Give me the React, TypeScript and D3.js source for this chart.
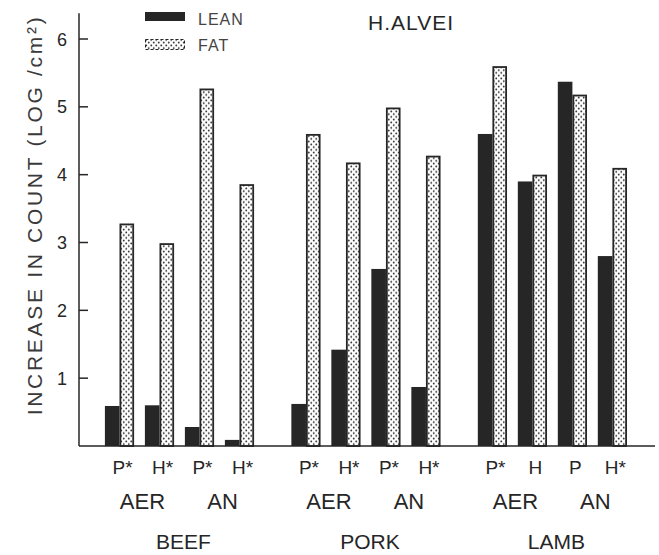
import React from "react";
import * as d3 from "d3";

// Increase in H. alvei count on lean and fat tissue, by meat, atmosphere and treatment
const groups = ["BEEF", "PORK", "LAMB"];
const atmospheres = ["AER", "AN"];
const slots = [0, 1, 2, 3];
const treatmentLabels = [
  "P*", "H*", "P*", "H*",
  "P*", "H*", "P*", "H*",
  "P*", "H", "P", "H*",
];
const leanValues = [
  0.59, 0.6, 0.28, 0.09,
  0.62, 1.42, 2.61, 0.87,
  4.6, 3.9, 5.37, 2.8,
];
const fatValues = [
  3.28, 2.99, 5.27, 3.86,
  4.6, 4.18, 4.99, 4.28,
  5.6, 4.0, 5.18, 4.1,
];
const series = ["LEAN", "FAT"];
const yTicks = [1, 2, 3, 4, 5, 6];

const W = 659;
const H = 555;
const FONT = "'Liberation Sans', Arial, Helvetica, sans-serif";
const INK = "#262626";

export default function App() {
  const y = d3.scaleLinear().domain([0, 6]).range([446, 39]);
  const xGroup = d3
    .scaleBand<string>()
    .domain(groups)
    .range([99.5, 632.4])
    .paddingInner(0.142)
    .paddingOuter(0);
  const xSlot = d3
    .scaleBand<number>()
    .domain(slots)
    .range([0, xGroup.bandwidth()])
    .paddingInner(0.27)
    .paddingOuter(0.135);
  const xSeries = d3
    .scaleBand<string>()
    .domain(series)
    .range([0, xSlot.bandwidth()]);

  const axisX = 79;
  const baseY = y(0);
  const axisTop = y(6.38);

  const pairCenter = (g: number, s: number) =>
    (xGroup(groups[g]) as number) + (xSlot(s) as number) + xSlot.bandwidth() / 2;

  const bars: React.ReactNode[] = [];
  groups.forEach((g, gi) => {
    slots.forEach((s) => {
      const i = gi * 4 + s;
      const x0 = (xGroup(g) as number) + (xSlot(s) as number);
      const lean = leanValues[i];
      const fat = fatValues[i];
      bars.push(
        <rect
          key={`l${i}`}
          x={x0 + (xSeries("LEAN") as number)}
          y={y(lean)}
          width={xSeries.bandwidth()}
          height={baseY - y(lean)}
          fill={INK}
        />
      );
      bars.push(
        <rect
          key={`f${i}`}
          x={x0 + (xSeries("FAT") as number) + 0.9}
          y={y(fat) + 0.9}
          width={xSeries.bandwidth() - 1.8}
          height={baseY - y(fat) - 0.9}
          fill="url(#dots)"
          stroke={INK}
          strokeWidth={1.8}
        />
      );
    });
  });

  return (
    <svg
      width={W}
      height={H}
      style={{ position: "absolute", left: 0, top: 0, background: "#fff" }}
      fontFamily={FONT}
    >
      <defs>
        <pattern id="dots" width={5} height={5.5} patternUnits="userSpaceOnUse">
          <rect width={5} height={5.5} fill="#fff" />
          <circle cx={1.25} cy={1.4} r={0.95} fill="#2a2a2a" />
          <circle cx={3.75} cy={4.15} r={0.95} fill="#2a2a2a" />
        </pattern>
      </defs>

      {/* y axis */}
      <line x1={axisX} x2={axisX} y1={axisTop} y2={baseY} stroke={INK} strokeWidth={1.5} />
      {yTicks.map((t) => (
        <g key={t}>
          <line x1={axisX} x2={axisX + 9} y1={y(t)} y2={y(t)} stroke={INK} strokeWidth={1.5} />
          <text
            x={67}
            y={y(t) + 6.5}
            textAnchor="end"
            fontSize={18}
            fill={INK}
          >
            {t}
          </text>
        </g>
      ))}
      <text
        transform={`translate(42,215) rotate(-90)`}
        textAnchor="middle"
        fontSize={21}
        letterSpacing={2.7}
        fill="#3a3a3a"
      >
        INCREASE IN COUNT (LOG /cm²)
      </text>

      {/* bars */}
      {bars}

      {/* baseline */}
      <line x1={axisX} x2={655} y1={baseY} y2={baseY} stroke={INK} strokeWidth={1.6} />

      {/* treatment labels */}
      {treatmentLabels.map((lab, i) => (
        <text
          key={`t${i}`}
          x={pairCenter(Math.floor(i / 4), i % 4) + 3}
          y={474}
          textAnchor="middle"
          fontSize={19}
          fill={INK}
        >
          {lab}
        </text>
      ))}

      {/* atmosphere labels */}
      {groups.map((g, gi) =>
        atmospheres.map((a, ai) => (
          <text
            key={`${g}${a}`}
            x={(pairCenter(gi, ai * 2) + pairCenter(gi, ai * 2 + 1)) / 2 + 3}
            y={509}
            textAnchor="middle"
            fontSize={22}
            fill={INK}
          >
            {a}
          </text>
        ))
      )}

      {/* meat labels */}
      {groups.map((g) => (
        <text
          key={g}
          x={(xGroup(g) as number) + xGroup.bandwidth() / 2 + 4}
          y={549}
          textAnchor="middle"
          fontSize={21}
          fill={INK}
        >
          {g}
        </text>
      ))}

      {/* legend */}
      <rect x={145} y={12} width={40} height={9} fill={INK} />
      <text x={198} y={25} fontSize={16} letterSpacing={1} fill="#444">
        LEAN
      </text>
      <rect
        x={145.5}
        y={39.5}
        width={39}
        height={10}
        fill="url(#dots)"
        stroke={INK}
        strokeWidth={1}
        strokeDasharray="3 2"
      />
      <text x={198} y={51} fontSize={16} letterSpacing={1} fill="#444">
        FAT
      </text>

      {/* title */}
      <text x={368} y={30} fontSize={21} letterSpacing={1} fill={INK}>
        H.ALVEI
      </text>
    </svg>
  );
}
